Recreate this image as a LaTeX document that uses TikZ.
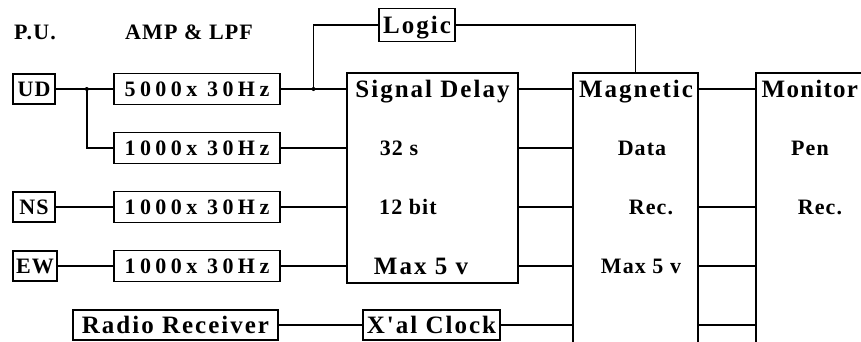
\documentclass[tikz,border=0pt]{standalone}
\usepackage{fontspec}
\setmainfont{Liberation Serif}
\newfontfamily\widefont[LetterSpace=20]{Liberation Serif}
\newfontfamily\midfont[LetterSpace=8]{Liberation Serif}
\newfontfamily\smallfont[LetterSpace=5]{Liberation Serif}
\usepackage{tikz}
\usetikzlibrary{calc}

\begin{document}
\begin{tikzpicture}[
    x=1pt, y=-1pt,
    line width=1.4pt,
    unit/.style={draw, inner sep=0pt, minimum width=42pt, minimum height=30pt, text height=14.6pt, text depth=0pt, font=\smallfont\bfseries\fontsize{22}{24}\selectfont},
    amp/.style={draw, inner sep=0pt, minimum width=166pt, minimum height=31pt, text height=14.6pt, text depth=0pt, font=\widefont\bfseries\fontsize{22}{24}\selectfont},
    headbox/.style={draw, inner sep=0pt, minimum height=30pt, text height=16.5pt, text depth=0pt, font=\midfont\bfseries\fontsize{25}{27}\selectfont},
    bigbox/.style={draw, inner sep=0pt},
    lab/.style={inner sep=0pt, text height=14.6pt, text depth=0pt, font=\smallfont\bfseries\fontsize{22}{24}\selectfont},
    head/.style={inner sep=0pt, text height=16.5pt, text depth=0pt, font=\midfont\bfseries\fontsize{25}{27}\selectfont},
    txt/.style={inner sep=0pt, text height=14.5pt, text depth=0pt, font=\smallfont\bfseries\fontsize{22}{24}\selectfont}
]
    \useasboundingbox (0,0) rectangle (861,341);
    \clip (0,0) rectangle (861,341);

    % column titles
    \node[lab] (pu) at (35,32) {P.U.};
    \node[lab] (amplpf) at (189,32) {AMP \& LPF};

    % pick-ups and amplifiers
    \node[unit] (ud) at (34,89) {UD};
    \node[unit] (ns) at (34,207) {NS};
    \node[unit, minimum width=44pt] (ew) at (35,266) {EW};
    \node[amp] (amp1) at (197,89) {5000x 30Hz};
    \node[amp] (amp2) at (197,148) {1000x 30Hz};
    \node[amp] (amp3) at (197,207) {1000x 30Hz};
    \node[amp] (amp4) at (197,266) {1000x 30Hz};

    \node[headbox, minimum width=76pt, minimum height=33pt] (logic) at (417,25) {Logic};
    \node[headbox, minimum width=205pt] (radio) at (175.5,325) {Radio Receiver};
    \node[headbox, minimum width=137pt] (clock) at (431.5,325) {X'al Clock};

    % big units
    \node[bigbox, minimum width=171pt, minimum height=210pt] (sd) at (432.5,178) {};
    \node[bigbox, minimum width=125pt, minimum height=300pt] (mag) at (635.5,223) {};
    \node[bigbox, minimum width=160pt, minimum height=300pt] (mon) at (836,223) {};

    \node[head] (sdname) at (sd.center |- amp1.center) {Signal Delay};
    \node[txt] (sdlen) at (399,148) {32 s};
    \node[txt] (sdbit) at (408,207) {12 bit};
    \node[head] (sdmax) at (421,266) {Max 5 v};
    \node[head] (magname) at (636,89) {Magnetic};
    \node[txt] (magdata) at (642,148) {Data};
    \node[txt] (magrec) at (651,207) {Rec.};
    \node[txt] (magmax) at (641,266) {Max 5 v};
    \node[head, anchor=west, font=\smallfont\bfseries\fontsize{25}{27}\selectfont] (monname) at (761,89) {Monitor};
    \node[txt] (monpen) at (810,148) {Pen};
    \node[txt] (monrec) at (820,207) {Rec.};

    % wiring
    \coordinate (j1) at ($(ud.east)!0.54!(amp1.west)$);
    \coordinate (j2) at ($(amp1.east)!0.5!(amp1.east -| sd.west)$);
    \draw (ud) -- (amp1);
    \draw (j1) |- (amp2);
    \fill (j1) circle (2pt);
    \draw (ns) -- (amp3);
    \draw (ew) -- (amp4);
    \draw (amp1) -- (amp1 -| sd.west);
    \draw (j2) |- (logic);
    \fill (j2) circle (2pt);
    \draw (logic) -| (mag);
    \foreach \r in {amp2,amp3,amp4}
        \draw (\r) -- (\r -| sd.west);
    \foreach \r in {amp1,amp2,amp3,amp4}
        \draw (\r -| sd.east) -- (\r -| mag.west);
    \draw (radio) -- (clock);
    \draw (clock) -- (clock -| mag.west);
    \foreach \r in {amp1,amp3,amp4,clock}
        \draw (\r -| mag.east) -- (\r -| mon.west);
\end{tikzpicture}
\end{document}
